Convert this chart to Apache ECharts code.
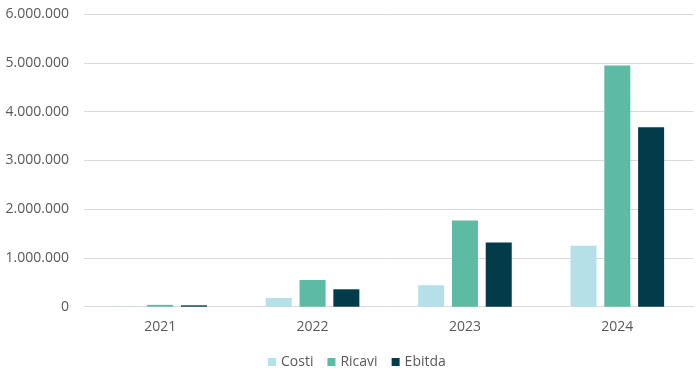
<!DOCTYPE html>
<html><head><meta charset="utf-8">
<script src="https://cdn.jsdelivr.net/npm/echarts@6/dist/echarts.min.js"></script>
<style>html,body{margin:0;padding:0;background:#fff}#c{width:700px;height:370px}</style>
</head><body><div id="c"></div>
<script>
var categories = ['2021', '2022', '2023', '2024'];
var costi = [10000, 180000, 440000, 1250000];
var ricavi = [38000, 548000, 1767000, 4945000];
var ebitda = [28000, 357000, 1315000, 3680000];
var yTicks = { min: 0, max: 6000000, interval: 1000000 };

var font = 'Open Sans';
var chart = echarts.init(document.getElementById('c'));
function fmt(v) { return String(v).replace(/\B(?=(\d{3})+(?!\d))/g, '.'); }
chart.setOption({
  animation: false,
  textStyle: { fontFamily: font },
  grid: { left: 84, right: 6.5, top: 14, bottom: 63.3, containLabel: false },
  legend: {
    top: 350, left: 263, itemWidth: 8, itemHeight: 8, itemGap: 14,
    icon: 'rect',
    textStyle: { color: '#595959', fontSize: 14, fontFamily: font },
    data: ['Costi', 'Ricavi', 'Ebitda']
  },
  xAxis: {
    type: 'category', data: categories,
    axisLine: { lineStyle: { color: '#d9d9d9', width: 1 } },
    axisTick: { show: false },
    axisLabel: { color: '#595959', fontSize: 14, margin: 13, fontFamily: font }
  },
  yAxis: {
    type: 'value', min: yTicks.min, max: yTicks.max, interval: yTicks.interval,
    axisLine: { show: false }, axisTick: { show: false },
    splitLine: { lineStyle: { color: '#d9d9d9', width: 1 } },
    axisLabel: { color: '#595959', fontSize: 14, margin: 15, fontFamily: font, formatter: fmt }
  },
  series: [
    { name: 'Costi', type: 'bar', data: costi, barWidth: 26, barGap: '30%',
      itemStyle: { color: '#b6e0e7' } },
    { name: 'Ricavi', type: 'bar', data: ricavi, barWidth: 26, barGap: '30%',
      itemStyle: { color: '#5cbba2' } },
    { name: 'Ebitda', type: 'bar', data: ebitda, barWidth: 26, barGap: '30%',
      itemStyle: { color: '#033b4a' } }
  ]
});
</script></body></html>
